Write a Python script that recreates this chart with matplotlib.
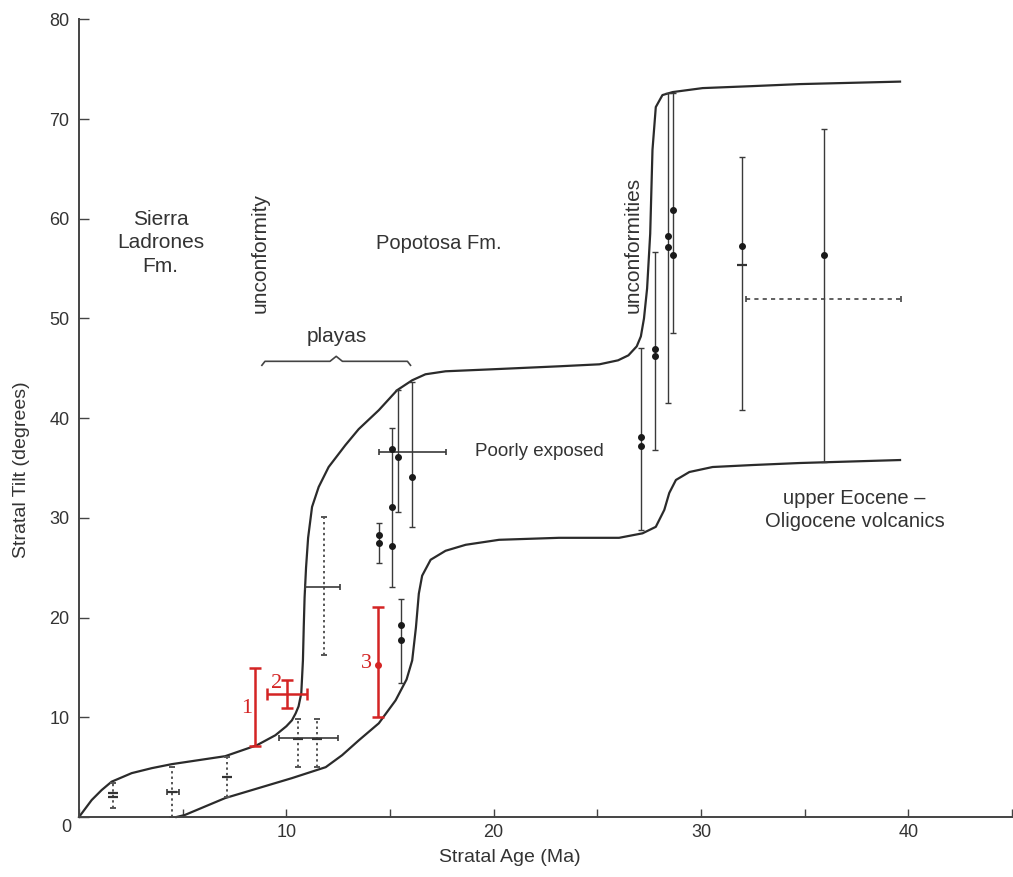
import numpy as np
import matplotlib.pyplot as plt
import matplotlib as mpl

mpl.rcParams['font.family'] = ['Liberation Sans', 'DejaVu Sans']

# envelope curves (age in Ma, tilt in degrees)
upper_age = [0.0, 0.61, 1.09, 1.57, 2.54, 3.51, 4.47, 5.76, 7.05, 8.58, 9.47, 10.0, 10.27,
             10.45, 10.59, 10.72, 10.8, 10.84, 10.88, 10.95, 11.05, 11.24, 11.56, 12.04,
             12.85, 13.49, 14.46, 15.34, 16.07, 16.71, 17.68, 19.93, 23.15, 25.1, 26.0,
             26.5, 26.9, 27.1, 27.25, 27.4, 27.55, 27.66, 27.82, 28.14, 28.63, 30.08,
             32.5, 34.75, 39.6]
upper_tilt = [0.0, 1.7, 2.7, 3.54, 4.4, 4.9, 5.3, 5.7, 6.1, 7.2, 8.2, 9.1, 9.7,
              10.4, 11.1, 12.4, 15.7, 19.1, 22.0, 25.0, 28.0, 31.1, 33.1, 35.1,
              37.3, 38.9, 40.8, 42.8, 43.8, 44.4, 44.7, 44.9, 45.2, 45.4, 45.8,
              46.3, 47.2, 48.2, 50.0, 53.0, 58.5, 66.9, 71.2, 72.4, 72.7, 73.1,
              73.3, 73.5, 73.75]
lower_age = [4.7, 5.1, 7.05, 10.27, 11.9, 12.69, 13.5, 14.46, 15.27, 15.8, 16.07, 16.25,
             16.39, 16.55, 16.96, 17.68, 18.65, 20.26, 23.15, 26.05, 27.18, 27.82, 28.23,
             28.47, 28.79, 29.44, 30.56, 32.5, 34.75, 39.6]
lower_tilt = [0.0, 0.2, 1.9, 3.9, 5.0, 6.2, 7.7, 9.4, 11.7, 13.8, 15.7, 19.0,
              22.4, 24.2, 25.8, 26.7, 27.3, 27.8, 28.0, 28.0, 28.45, 29.1, 30.8,
              32.5, 33.8, 34.6, 35.1, 35.3, 35.5, 35.8]

# solid vertical error bars
solid_x = [14.46, 15.1, 15.39, 16.07, 15.55, 27.1, 27.8, 28.39, 28.66, 31.98, 35.92]
solid_lo = [25.5, 23.1, 30.6, 29.1, 13.4, 28.8, 36.8, 41.5, 48.5, 40.8, 35.6]
solid_hi = [29.5, 39.0, 42.8, 43.6, 21.9, 47.0, 56.7, 72.6, 72.6, 66.2, 69.0]

# measured tilts (dots)
dot_x = [14.46, 14.46, 15.1, 15.1, 15.1, 15.39, 16.07, 15.55, 15.55, 27.1, 27.1,
         27.8, 27.8, 28.39, 28.39, 28.66, 28.66, 31.98, 35.92]
dot_y = [28.3, 27.5, 36.9, 31.1, 27.2, 36.1, 34.1, 19.3, 17.75, 38.1, 37.2,
         46.9, 46.2, 58.3, 57.2, 60.9, 56.4, 57.3, 56.4]

# dotted vertical error bars
dotted_x = [1.66, 4.47, 7.13, 10.56, 11.48, 11.83]
dotted_lo = [0.9, 0.0, 2.0, 5.0, 5.0, 16.2]
dotted_hi = [3.4, 5.05, 6.05, 9.8, 9.8, 30.1]

# dash markers
dash_x = [1.66, 1.66, 4.47, 7.13, 10.56, 11.48, 31.98]
dash_y = [2.4, 2.0, 2.5, 4.0, 7.8, 7.8, 55.4]

# horizontal age error bars
hbar_y = [2.54, 7.9, 23.1, 36.6]
hbar_lo = [4.23, 9.63, 10.92, 14.46]
hbar_hi = [4.8, 12.5, 12.6, 17.68]
hdash_y = [51.9]
hdash_lo = [32.17]
hdash_hi = [39.66]

# red (new) samples
red_x = [8.5, 10.03, 14.41]
red_lo = [7.1, 10.9, 10.0]
red_hi = [14.9, 13.7, 21.1]
red_h_y = [12.34]
red_h_lo = [9.06]
red_h_hi = [11.0]
red_dot_x = [14.41]
red_dot_y = [15.25]
red_labels = ['1', '2', '3']
red_label_x = [8.1, 9.55, 13.85]
red_label_y = [10.9, 13.4, 15.4]

ink = '#2b2b2b'
red = '#d42424'


def vbars(ax, x, lo, hi, color, lw, ls='-', cap=2.5):
    lo = np.array(lo)
    hi = np.array(hi)
    eb = ax.errorbar(x, (lo + hi) / 2, yerr=(hi - lo) / 2, fmt='none', ecolor=color,
                     elinewidth=lw, capsize=cap, capthick=lw)
    eb[2][0].set_linestyle(ls)
    return eb


def hbars(ax, y, lo, hi, color, lw, ls='-', cap=2.5):
    lo = np.array(lo)
    hi = np.array(hi)
    eb = ax.errorbar((lo + hi) / 2, y, xerr=(hi - lo) / 2, fmt='none', ecolor=color,
                     elinewidth=lw, capsize=cap, capthick=lw)
    eb[2][0].set_linestyle(ls)
    return eb


fig = plt.figure(figsize=(10.13, 8.77), dpi=100)
ax = fig.add_axes([0.078, 0.0684, 0.921, 0.9096])

ax.plot(upper_age, upper_tilt, color=ink, lw=1.6, clip_on=False, solid_joinstyle='round')
ax.plot(lower_age, lower_tilt, color=ink, lw=1.6, clip_on=False, solid_joinstyle='round')

vbars(ax, solid_x, solid_lo, solid_hi, '#3a3a3a', 1.0)
vbars(ax, dotted_x, dotted_lo, dotted_hi, '#555555', 1.4, ls=(0, (1.2, 1.6)))
hbars(ax, hbar_y, hbar_lo, hbar_hi, '#3a3a3a', 1.2)
hbars(ax, hdash_y, hdash_lo, hdash_hi, '#444444', 1.2, ls=(0, (2.5, 2.5)))
ax.plot(dot_x, dot_y, 'o', ms=4, color='#1a1a1a')
ax.plot(dash_x, dash_y, '_', ms=7, mew=1.6, color='#333333')

vbars(ax, red_x, red_lo, red_hi, red, 1.8, cap=4)
hbars(ax, red_h_y, red_h_lo, red_h_hi, red, 1.8, cap=4)
ax.plot(red_dot_x, red_dot_y, 'o', ms=4, color=red)
for lab, lx, ly in zip(red_labels, red_label_x, red_label_y):
    ax.text(lx, ly, lab, color=red, fontsize=16, family=['Liberation Serif', 'DejaVu Serif'],
            ha='center', va='center')

# playas brace
bx0, bx1, by = 8.82, 15.99, 45.7
bm = (bx0 + bx1) / 2
ax.plot([bx0, bx0 + 0.15, bm - 0.3, bm, bm + 0.3, bx1 - 0.15, bx1],
        [by - 0.4, by, by, by + 0.5, by, by, by - 0.4], color='#444444', lw=1.2)

txt = dict(color='#333333', ha='center', va='center')
ax.text(3.93, 57.6, 'Sierra\nLadrones\nFm.', fontsize=15, linespacing=1.3, **txt)
ax.text(8.74, 56.6, 'unconformity', fontsize=15, rotation=90, **txt)
ax.text(12.44, 48.2, 'playas', fontsize=15, **txt)
ax.text(17.36, 57.5, 'Popotosa Fm.', fontsize=14.5, **txt)
ax.text(22.19, 36.7, 'Poorly exposed', fontsize=13.5, **txt)
ax.text(26.73, 57.4, 'unconformities', fontsize=15, rotation=90, **txt)
ax.text(37.4, 30.8, 'upper Eocene \u2013\nOligocene volcanics', fontsize=14.5,
        linespacing=1.25, **txt)

ax.set_xlim(0, 45)
ax.set_ylim(0, 80)
ax.xaxis.set_major_locator(mpl.ticker.MultipleLocator(5))
ax.yaxis.set_major_locator(mpl.ticker.MultipleLocator(10))
ax.xaxis.set_major_formatter(mpl.ticker.FuncFormatter(
    lambda v, p: '%d' % v if v % 10 == 0 and 0 < v < 45 else ''))
ax.yaxis.set_major_formatter(mpl.ticker.FuncFormatter(
    lambda v, p: '%d' % v if v > 0 else ''))
ax.tick_params(axis='x', direction='in', length=6, width=1, colors='#444444',
               labelsize=13, pad=5, labelcolor='#333333')
ax.tick_params(axis='y', direction='in', length=7, width=1, colors='#444444',
               labelsize=13, pad=7, labelcolor='#333333')
ax.text(-0.6, -1.1, '0', fontsize=13, color='#333333', ha='center', va='center',
        clip_on=False)

for s in ['top', 'right']:
    ax.spines[s].set_visible(False)
for s in ['left', 'bottom']:
    ax.spines[s].set_linewidth(1.4)
    ax.spines[s].set_color('#444444')

fig.text(510 / 1013, 1 - 858 / 877, 'Stratal Age (Ma)', fontsize=14, color='#333333',
         ha='center', va='center')
fig.text(22 / 1013, 1 - 470 / 877, 'Stratal Tilt (degrees)', fontsize=14, color='#333333',
         ha='center', va='center', rotation=90)

plt.savefig('out.png', dpi=100)
